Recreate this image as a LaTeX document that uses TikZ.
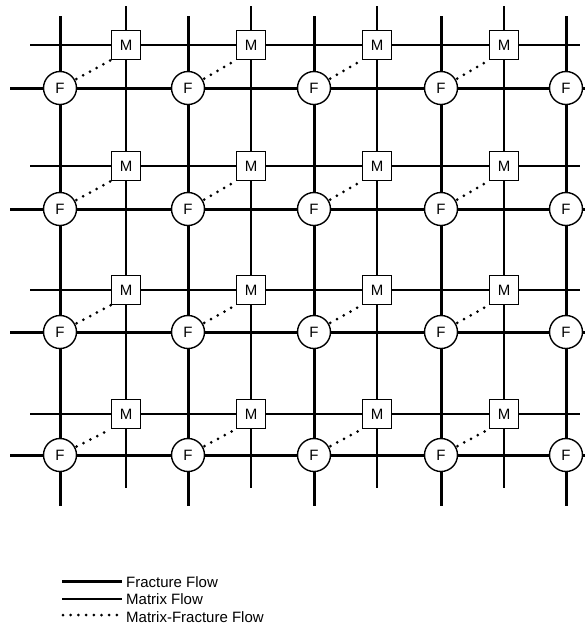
\documentclass[tikz,border=0pt]{standalone}
\usepackage{fontspec}
\setmainfont{Liberation Sans}
\begin{document}
\begin{tikzpicture}[x=1pt,y=-1pt,
  fracture/.style={line width=3pt},
  matrixflow/.style={line width=1.1pt},
  mfflow/.style={line width=3pt, line cap=round, dash pattern=on 0pt off 7.7pt},
  fnode/.style={circle, draw, line width=1.4pt, fill=white, minimum size=33pt, inner sep=0pt, font=\fontsize{15}{17}\selectfont},
  mnode/.style={rectangle, draw, line width=1.4pt, fill=white, minimum size=29pt, inner sep=0pt, font=\fontsize{15}{17}\selectfont},
  legtext/.style={anchor=base west, inner sep=0pt, font=\fontsize{15}{17}\selectfont}]
\useasboundingbox (0,0) rectangle (585,630);

% fracture nodes and free line ends
\foreach \x [count=\i] in {60,188,314,441,566} {
  \foreach \y [count=\j] in {88,209,332,455} {
    \node[fnode] (F-\i-\j) at (\x,\y) {F};
  }
  \coordinate (ft-\i) at (\x,16);
  \coordinate (fb-\i) at (\x,506);
}
\foreach \y [count=\j] in {88,209,332,455} {
  \coordinate (fl-\j) at (10,\y);
  \coordinate (fr-\j) at (585,\y);
}
% matrix nodes and free line ends
\foreach \x [count=\i] in {126,251,377,504} {
  \foreach \y [count=\j] in {45,166,290,414} {
    \node[mnode] (M-\i-\j) at (\x,\y) {M};
  }
  \coordinate (mt-\i) at (\x,6);
  \coordinate (mb-\i) at (\x,488);
}
\foreach \y [count=\j] in {45,166,290,414} {
  \coordinate (ml-\j) at (30,\y);
  \coordinate (mr-\j) at (580,\y);
}

% matrix flow lines
\foreach \i in {1,...,4} {
  \draw[matrixflow] (mt-\i) -- (M-\i-1);
  \foreach \j [evaluate=\j as \k using int(\j+1)] in {1,2,3} {
    \draw[matrixflow] (M-\i-\j) -- (M-\i-\k);
  }
  \draw[matrixflow] (M-\i-4) -- (mb-\i);
}
\foreach \j in {1,...,4} {
  \draw[matrixflow] (ml-\j) -- (M-1-\j);
  \foreach \i [evaluate=\i as \k using int(\i+1)] in {1,2,3} {
    \draw[matrixflow] (M-\i-\j) -- (M-\k-\j);
  }
  \draw[matrixflow] (M-4-\j) -- (mr-\j);
}
% fracture flow lines
\foreach \i in {1,...,5} {
  \draw[fracture] (ft-\i) -- (F-\i-1);
  \foreach \j [evaluate=\j as \k using int(\j+1)] in {1,2,3} {
    \draw[fracture] (F-\i-\j) -- (F-\i-\k);
  }
  \draw[fracture] (F-\i-4) -- (fb-\i);
}
\foreach \j in {1,...,4} {
  \draw[fracture] (fl-\j) -- (F-1-\j);
  \foreach \i [evaluate=\i as \k using int(\i+1)] in {1,2,3,4} {
    \draw[fracture] (F-\i-\j) -- (F-\k-\j);
  }
  \draw[fracture] (F-5-\j) -- (fr-\j);
}
% matrix-fracture flow
\foreach \i in {1,...,4} {
  \foreach \j in {1,...,4} {
    \draw[mfflow, shorten <=1.5pt] (F-\i-\j) -- (M-\i-\j.south west);
  }
}

% legend
\coordinate (la1) at (62,581); \coordinate (lb1) at (122,581);
\coordinate (la2) at (62,599); \coordinate (lb2) at (122,599);
\coordinate (la3) at (63,615); \coordinate (lb3) at (117,615);
\draw[fracture] (la1) -- (lb1);
\draw[matrixflow] (la2) -- (lb2);
\draw[mfflow] (la3) -- (lb3);
\node[legtext] (leg1) at (126,587) {Fracture Flow};
\node[legtext] (leg2) at (126,604) {Matrix Flow};
\node[legtext] (leg3) at (126,622) {Matrix-Fracture Flow};
\end{tikzpicture}
\end{document}
